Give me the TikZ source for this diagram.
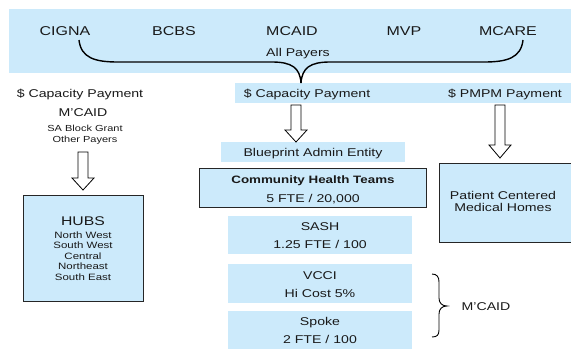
\documentclass[tikz,border=0pt]{standalone}
\usepackage{fontspec}
\setmainfont[FakeStretch=1.25]{Liberation Sans}
\definecolor{bandblue}{HTML}{CCEAFB}
\newcommand\szBig{\fontsize{12.8}{15}\selectfont}
\newcommand\szNorm{\fontsize{11.3}{13}\selectfont}
\newcommand\szBold{\fontsize{10.7}{13}\selectfont\bfseries}
\newcommand\szHub{\fontsize{12.6}{15}\selectfont}
\newcommand\szSmall{\fontsize{9.2}{10.5}\selectfont}
\newcommand\szTiny{\fontsize{8.8}{10}\selectfont}
\begin{document}
\begin{tikzpicture}[x=1pt,y=-1pt,
  band/.style={fill=bandblue, draw=none, inner sep=0, outer sep=0, anchor=north west},
  box/.style={fill=bandblue, draw=black!85, line width=0.9pt, inner sep=0, outer sep=0, anchor=north west},
  tbig/.style={font=\szBig, inner sep=0, text height=9.2pt, text depth=0pt, text=black!90},
  tnorm/.style={font=\szNorm, inner sep=0, text height=8.1pt, text depth=0pt, text=black!90},
  tbold/.style={font=\szBold, inner sep=0, text height=7.7pt, text depth=0pt, text=black!90},
  thub/.style={font=\szHub, inner sep=0, text height=9pt, text depth=0pt, text=black!90},
  tsmall/.style={font=\szSmall, inner sep=0, text height=6.6pt, text depth=0pt, text=black!90},
  ttiny/.style={font=\szTiny, inner sep=0, text height=6.3pt, text depth=0pt, text=black!90},
  barrow/.style={draw=black, fill=white, line width=0.8pt, line join=miter},
  bigbrace/.style={draw=black, line width=1.4pt},
  smallbrace/.style={draw=black, line width=0.9pt}
]
\useasboundingbox (0,0) rectangle (571,356);

% bands and boxes
\node[band, minimum width=570pt, minimum height=64pt] (payband) at (9,9) {};
\node[band, minimum width=345pt, minimum height=20pt] (payment) at (235,83) {};
\node[band, minimum width=184pt, minimum height=20pt] (admin) at (221,142) {};
\node[box, minimum width=227pt, minimum height=39pt] (cht) at (199,168) {};
\node[box, minimum width=150pt, minimum height=79pt] (pcmh) at (439,163) {};
\node[box, minimum width=120pt, minimum height=106pt] (hubs) at (23,195) {};
\node[band, minimum width=184pt, minimum height=38pt] (sash) at (228,216) {};
\node[band, minimum width=184pt, minimum height=39pt] (vcci) at (228,264) {};
\node[band, minimum width=184pt, minimum height=38pt] (spoke) at (228,311) {};

% payers
\node[tbig] (cigna) at (65,31) {CIGNA};
\node[tbig] (bcbs) at (174,31) {BCBS};
\node[tbig] (mcaid) at (292,31) {MCAID};
\node[tbig] (mvp) at (404,31) {MVP};
\node[tbig] (mcare) at (508,31) {MCARE};
\node[tnorm] (allpay) at (298,52) {All Payers};

% big brace
\coordinate (bl) at (79,40);
\coordinate (br) at (523,40);
\coordinate (btip) at (301,83);
\draw[bigbrace] (bl) .. controls (81,58) and (95,62) .. (118,62) -- (272,62)
   .. controls (292,62) and (300,68) .. (btip);
\draw[bigbrace] (br) .. controls (521,58) and (507,62) .. (484,62) -- (330,62)
   .. controls (310,62) and (302,68) .. (btip);

% left column
\node[tnorm] (lcap) at (80,93) {\$ Capacity Payment};
\node[tnorm] (lmcaid) at (83,112) {M’CAID};
\node[ttiny] (sablock) at (85,128) {SA Block Grant};
\node[ttiny] (other) at (85,139) {Other Payers};
\draw[barrow] (78,152) -- (88,152) -- (88,178) -- (94,178) -- (83,190) -- (72,178) -- (78,178) -- cycle;
\node[thub] (hubst) at (83,221) {HUBS};
\node[tsmall] (h1) at (83,235) {North West};
\node[tsmall] (h2) at (83,245.5) {South West};
\node[tsmall] (h3) at (83,256) {Central};
\node[tsmall] (h4) at (83,266.5) {Northeast};
\node[tsmall] (h5) at (83,277) {South East};

% middle column
\node[tnorm] (mcap) at (307,93) {\$ Capacity Payment};
\node[tnorm] (pmpm) at (505,93) {\$ PMPM Payment};
\draw[barrow] (291,105) -- (301,105) -- (301,130) -- (307,130) -- (296,142) -- (285,130) -- (291,130) -- cycle;
\node[tnorm] (admint) at (313,152) {Blueprint Admin Entity};
\node[tbold] (chtt) at (313,179.5) {Community Health Teams};
\node[tnorm] (chtf) at (313,198) {5 FTE / 20,000};
\node[tnorm] (sasht) at (320,226) {SASH};
\node[tnorm] (sashf) at (320,244) {1.25 FTE / 100};
\node[tnorm] (vccit) at (320,275) {VCCI};
\node[tnorm] (vccif) at (320,293) {Hi Cost 5\%};
\node[tnorm] (spoket) at (320,321) {Spoke};
\node[tnorm] (spokef) at (320,339) {2 FTE / 100};

% right column
\draw[barrow] (495,105) -- (505,105) -- (505,145) -- (511,145) -- (500,158) -- (489,145) -- (495,145) -- cycle;
\node[tnorm] (pc1) at (503,195) {Patient Centered};
\node[tnorm] (pc2) at (503,207) {Medical Homes};

% small brace
\coordinate (sbt) at (432,274);
\coordinate (sbb) at (432,337);
\coordinate (sbtip) at (447,306);
\draw[smallbrace] (sbt) .. controls (437,274) and (439,277) .. (439,282) -- (439,298)
   .. controls (439,303) and (442,306) .. (sbtip)
   .. controls (442,306) and (439,309) .. (439,314) -- (439,330)
   .. controls (439,335) and (437,337) .. (sbb);
\node[tnorm] (rmcaid) at (486,306) {M’CAID};
\end{tikzpicture}
\end{document}
